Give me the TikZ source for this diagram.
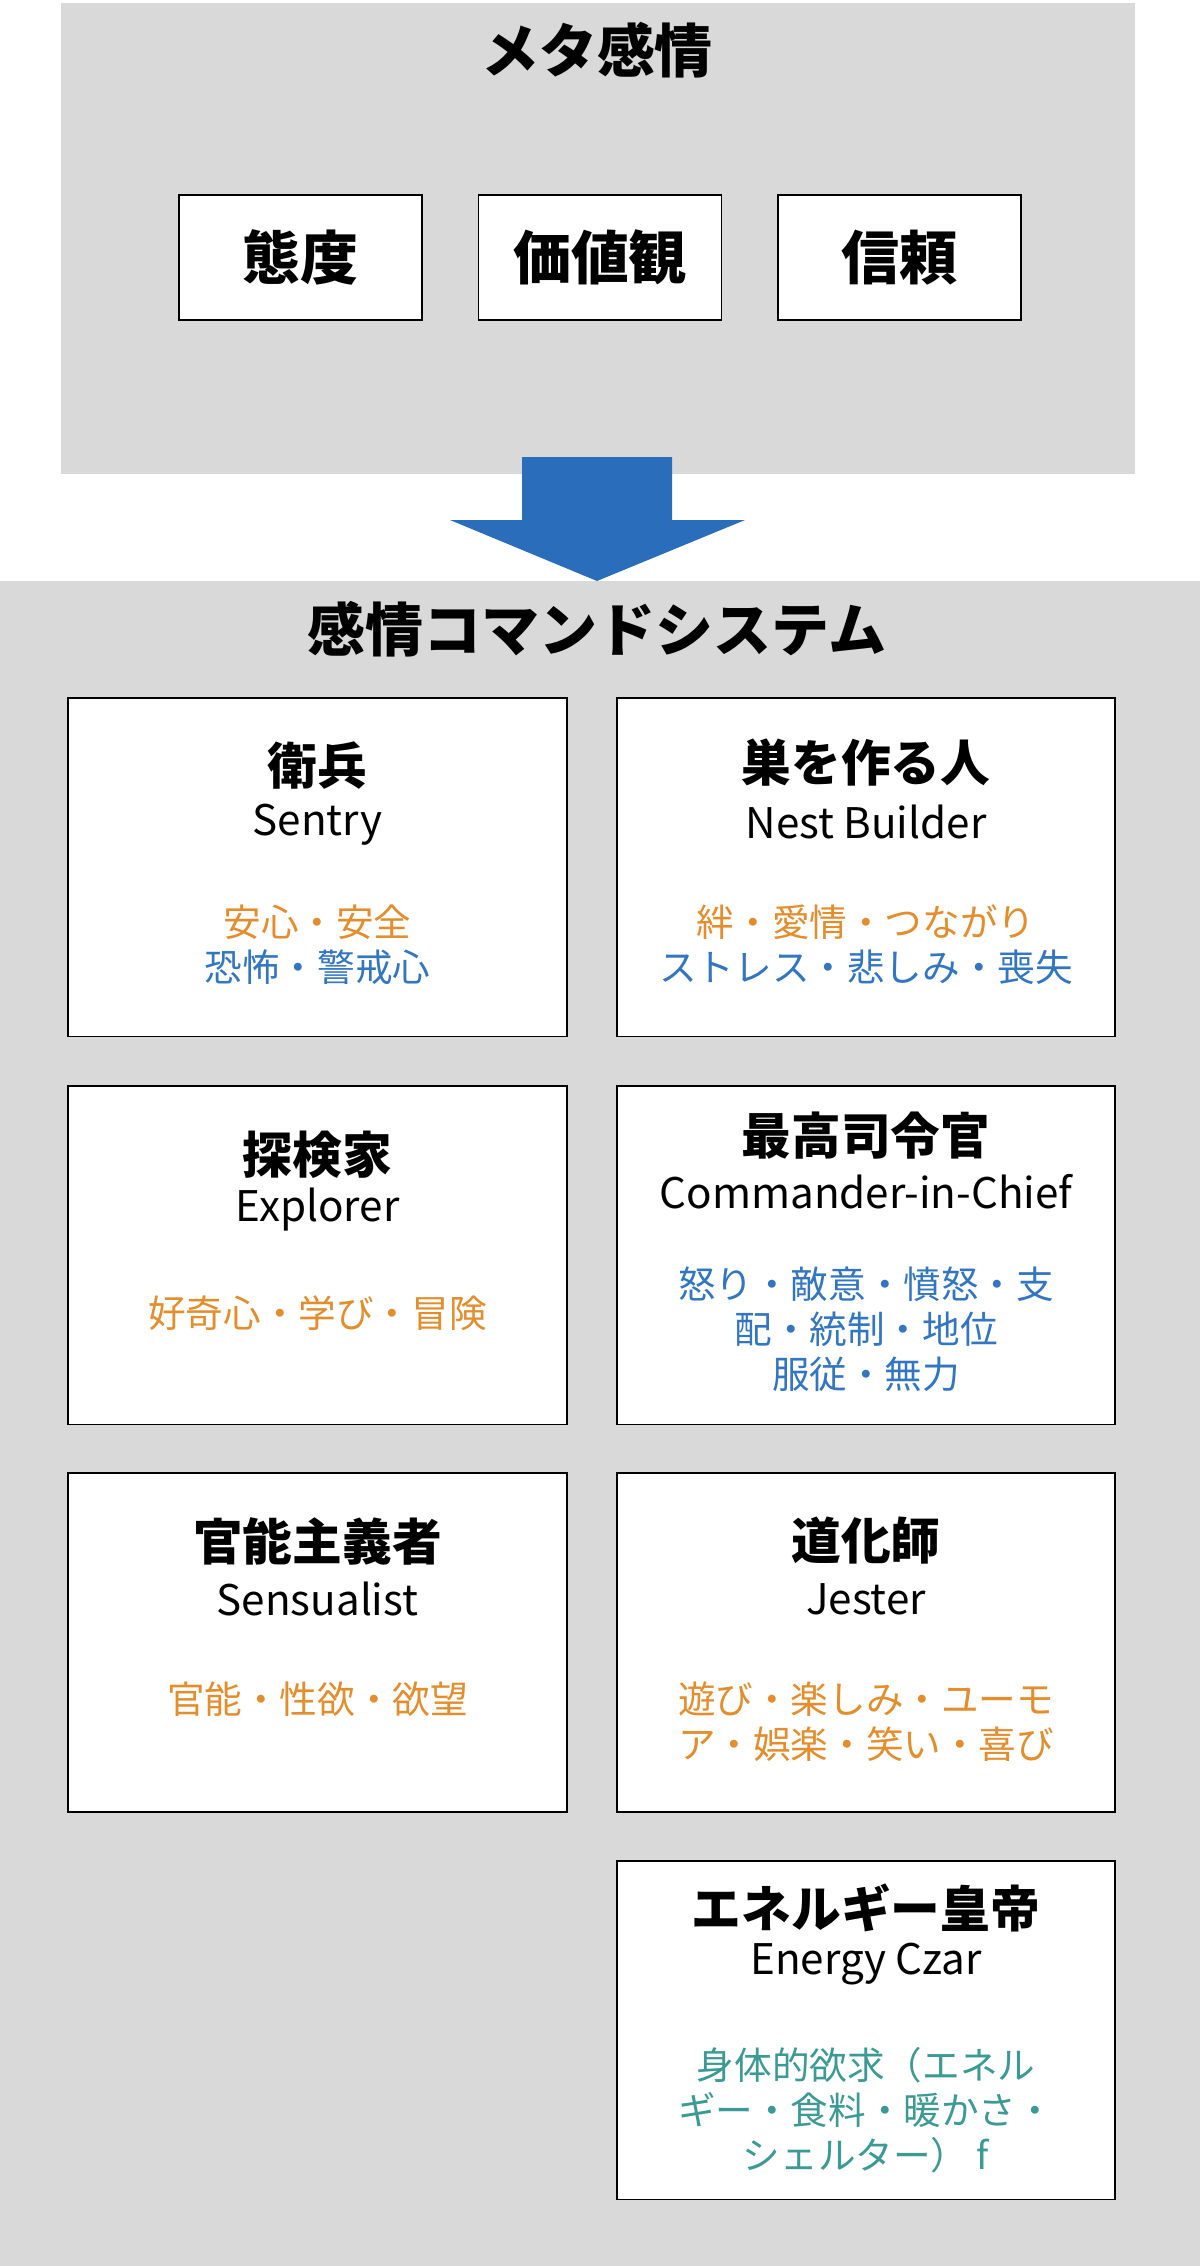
\documentclass[tikz,border=0pt]{standalone}
\usepackage{xcolor}
\usepackage{fontspec}
\setmainfont{Noto Sans CJK JP}
\usepackage{tikz}
\usetikzlibrary{positioning}

\definecolor{bggray}{HTML}{D9D9D9}
\definecolor{arrowblue}{HTML}{2A6EBB}
\definecolor{posorange}{HTML}{E38D2C}
\definecolor{negblue}{HTML}{3276C2}
\definecolor{needteal}{HTML}{3C9A95}

\begin{document}
\begin{tikzpicture}[x=0.02cm, y=-0.02cm,
        bigtitle/.style={font=\fontsize{33}{40}\selectfont\bfseries, inner sep=0pt},
        metabox/.style={draw, fill=white, line width=1.1pt, minimum width=4.86cm, minimum height=2.5cm, font=\fontsize{33}{40}\selectfont\bfseries},
        card/.style={draw, fill=white, line width=1.1pt, minimum width=9.98cm, minimum height=6.78cm},
        jpname/.style={font=\fontsize{28.3}{34}\selectfont\bfseries, inner sep=0pt},
        enname/.style={font=\fontsize{24}{30}\selectfont, inner sep=0pt},
        emo/.style={font=\fontsize{21.4}{25.6}\selectfont, align=center, inner sep=0pt}]
        \useasboundingbox (0,0) rectangle (1200,2266);
        \fill[bggray] (61,3) rectangle (1135,474);
        \fill[bggray] (0,581) rectangle (1200,2266);
        \fill[arrowblue] (522,457) -- (672,457) -- (672,520) -- (745,520) -- (597,581) -- (450,520) -- (522,520) -- cycle;

        \node[bigtitle] at (597,50) (meta) {メタ感情};
        \node[metabox] at (300.5,257.5) (attitude) {態度};
        \node[metabox] at (600,257.5) (values) {価値観};
        \node[metabox] at (899.5,257.5) (trust) {信頼};

        \node[bigtitle] at (597,629) (command) {感情コマンドシステム};

        \node[card] at (317.5,867) (sentry) {};
        \node[jpname] at (317.5,766) (sentry-jp) {衛兵};
        \node[enname] at (317.5,825) (sentry-en) {Sentry};
        \node[emo] at (317.5,944.5) (sentry-emo) {\textcolor{posorange}{安心・安全}\\\textcolor{negblue}{恐怖・警戒心}};

        \node[card] at (866,867) (nest) {};
        \node[jpname] at (866,763) (nest-jp) {巣を作る人};
        \node[enname] at (866,822) (nest-en) {Nest Builder};
        \node[emo] at (866,944.5) (nest-emo) {\textcolor{posorange}{絆・愛情・つながり}\\\textcolor{negblue}{ストレス・悲しみ・喪失}};

        \node[card] at (317.5,1255) (explorer) {};
        \node[jpname] at (317.5,1155) (explorer-jp) {探検家};
        \node[enname] at (317.5,1210) (explorer-en) {Explorer};
        \node[emo] at (317.5,1313) (explorer-emo) {\textcolor{posorange}{好奇心・学び・冒険}};

        \node[card] at (866,1255) (chief) {};
        \node[jpname] at (866,1136) (chief-jp) {最高司令官};
        \node[enname] at (866,1192) (chief-en) {Commander-in-Chief};
        \node[emo, text=negblue] at (866,1329) (chief-emo) {怒り・敵意・憤怒・支\\配・統制・地位\\服従・無力};

        \node[card] at (317.5,1642.5) (sensualist) {};
        \node[jpname] at (317.5,1541) (sensualist-jp) {官能主義者};
        \node[enname] at (317.5,1599) (sensualist-en) {Sensualist};
        \node[emo] at (317.5,1699) (sensualist-emo) {\textcolor{posorange}{官能・性欲・欲望}};

        \node[card] at (866,1642.5) (jester) {};
        \node[jpname] at (866,1541) (jester-jp) {道化師};
        \node[enname] at (866,1599) (jester-en) {Jester};
        \node[emo, text=posorange] at (866,1722) (jester-emo) {遊び・楽しみ・ユーモ\\ア・娯楽・笑い・喜び};

        \node[card] at (866,2030) (czar) {};
        \node[jpname] at (866,1908) (czar-jp) {エネルギー皇帝};
        \node[enname] at (866,1964) (czar-en) {Energy Czar};
        \node[emo, text=needteal] at (866,2110) (czar-emo) {身体的欲求（エネル\\ギー・食料・暖かさ・\\シェルター）\ f};
    \end{tikzpicture}
\end{document}
